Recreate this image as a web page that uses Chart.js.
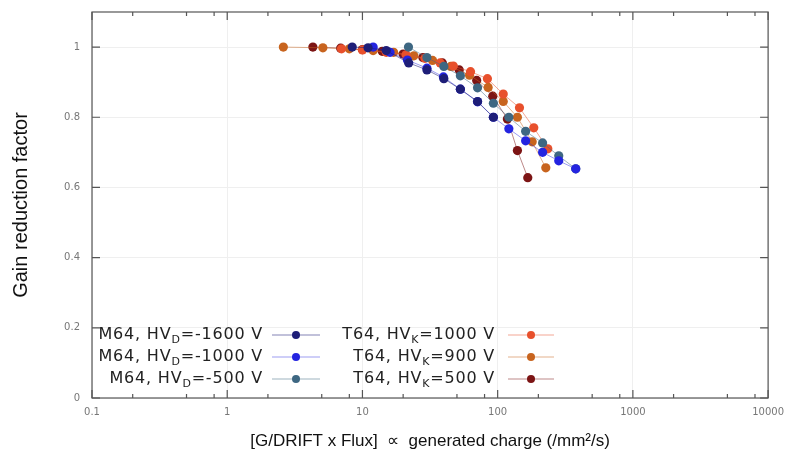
<!DOCTYPE html>
<html>
<head>
<meta charset="utf-8">
<script src="https://cdn.jsdelivr.net/npm/chart.js@4.4.0/dist/chart.umd.min.js"></script>
<style>
  html, body { margin: 0; padding: 0; background: #fff; }
  #chart { display: block; }
</style>
</head>
<body>
<canvas id="chart" width="792" height="461"></canvas>
<script>
// series values (x = generated charge, y = gain reduction factor)
const m1600X = [8.4, 11, 15, 22, 30, 40, 53, 71, 93];
const m1600Y = [1.0, 0.998, 0.99, 0.955, 0.935, 0.91, 0.88, 0.845, 0.80];
const m1000X = [12, 16, 21.5, 30, 39.7, 53, 71, 93, 121, 161, 215, 283, 378];
const m1000Y = [1.0, 0.985, 0.963, 0.94, 0.915, 0.88, 0.844, 0.80, 0.767, 0.733, 0.70, 0.676, 0.653];
const m500X = [21.9, 30, 40, 53, 71, 93, 121, 161, 215, 283, 378];
const m500Y = [1.0, 0.97, 0.945, 0.918, 0.884, 0.84, 0.80, 0.76, 0.727, 0.69, 0.653];
const t1000X = [7, 10, 15, 21, 29, 37.6, 47, 63, 84, 110, 145, 185, 235];
const t1000Y = [0.995, 0.992, 0.985, 0.978, 0.968, 0.955, 0.946, 0.93, 0.91, 0.866, 0.827, 0.77, 0.71];
const t900X = [2.6, 5.1, 8, 12, 17, 24, 33, 45, 62, 85, 110, 140, 180, 227];
const t900Y = [1.0, 0.998, 0.995, 0.99, 0.985, 0.975, 0.962, 0.945, 0.92, 0.885, 0.845, 0.80, 0.73, 0.656];
const t500X = [4.3, 6.9, 10, 14, 20, 28, 39, 52, 70, 92, 118, 140, 167];
const t500Y = [1.0, 0.997, 0.993, 0.988, 0.98, 0.97, 0.955, 0.935, 0.905, 0.86, 0.795, 0.705, 0.628];

const seriesLabels = ['M64, HV_D=-1600 V', 'M64, HV_D=-1000 V', 'M64, HV_D=-500 V',
                      'T64, HV_K=1000 V', 'T64, HV_K=900 V', 'T64, HV_K=500 V'];
const xMajorTicks = [0.1, 1, 10, 100, 1000, 10000];
const xMinorSteps = [2, 5, 8];
const yTicks = [0, 0.2, 0.4, 0.6, 0.8, 1];

const colors = ['#1e1e78', '#2424e0', '#3e6782', '#e8502c', '#c8641e', '#7c1414'];
const lineColors = ['rgba(30,30,120,0.55)', 'rgba(36,36,224,0.45)', 'rgba(62,103,130,0.5)',
                    'rgba(232,80,44,0.5)', 'rgba(200,100,30,0.5)', 'rgba(124,20,20,0.5)'];

function pts(xs, ys) {
    return xs.map((x, i) => ({ x: x, y: ys[i] }));
}
const allData = [pts(m1600X, m1600Y), pts(m1000X, m1000Y), pts(m500X, m500Y),
                 pts(t1000X, t1000Y), pts(t900X, t900Y), pts(t500X, t500Y)];

// frame, inward ticks (top/right mirrored) and gnuplot-like legend
const framePlugin = {
    id: 'frame',
    afterDatasetsDraw(chart) {
        const { ctx, chartArea: a, scales } = chart;
        ctx.save();
        ctx.strokeStyle = '#555';
        ctx.lineWidth = 1.2;
        ctx.beginPath();
        const xs = scales.x, ys = scales.y;
        const tick = (px, len) => {
            ctx.moveTo(px, a.bottom); ctx.lineTo(px, a.bottom - len);
            ctx.moveTo(px, a.top); ctx.lineTo(px, a.top + len);
        };
        xMajorTicks.forEach(v => {
            tick(xs.getPixelForValue(v), 8);
            if (v < 10000) xMinorSteps.forEach(m => tick(xs.getPixelForValue(v * m), 4));
        });
        yTicks.forEach(v => {
            const py = ys.getPixelForValue(v);
            ctx.moveTo(a.left, py); ctx.lineTo(a.left + 8, py);
            ctx.moveTo(a.right, py); ctx.lineTo(a.right - 8, py);
        });
        ctx.stroke();
        ctx.strokeRect(a.left, a.top, a.right - a.left, a.bottom - a.top);

        // legend
        const rowsY = [335, 357, 379];
        const cols = [{ textRight: 263, lineL: 272, lineR: 320 }, { textRight: 495, lineL: 508, lineR: 554 }];
        ctx.textBaseline = 'middle';
        ctx.letterSpacing = '0.8px';
        chart.data.datasets.forEach((ds, i) => {
            const col = cols[Math.floor(i / 3)];
            const y = rowsY[i % 3];
            const m = ds.label.match(/^(.*)_(\w)(.*)$/);
            const big = '16px "DejaVu Sans"', small = '11px "DejaVu Sans"';
            ctx.font = big;
            const w1 = ctx.measureText(m[1]).width, w3 = ctx.measureText(m[3]).width;
            ctx.font = small;
            const w2 = ctx.measureText(m[2]).width;
            let x = col.textRight - (w1 + w2 + w3);
            ctx.fillStyle = '#222';
            ctx.textAlign = 'left';
            ctx.font = big; ctx.fillText(m[1], x, y); x += w1;
            ctx.font = small; ctx.fillText(m[2], x, y + 5); x += w2;
            ctx.font = big; ctx.fillText(m[3], x, y);
            ctx.strokeStyle = ds.borderColor;
            ctx.lineWidth = 1;
            ctx.beginPath();
            ctx.moveTo(col.lineL, y); ctx.lineTo(col.lineR, y);
            ctx.stroke();
            ctx.fillStyle = ds.pointBackgroundColor;
            ctx.beginPath();
            ctx.arc((col.lineL + col.lineR) / 2, y, 4, 0, Math.PI * 2);
            ctx.fill();
        });
        ctx.restore();
    }
};

const ctx = document.getElementById('chart').getContext('2d');
const chart = new Chart(ctx, {
    type: 'scatter',
    data: {
        datasets: allData.map((d, i) => ({
            label: seriesLabels[i],
            data: d,
            showLine: true,
            borderColor: lineColors[i],
            borderWidth: 1,
            pointBackgroundColor: colors[i],
            pointBorderColor: colors[i],
            pointBorderWidth: 0,
            pointRadius: 4.6
        }))
    },
    options: {
        responsive: false,
        animation: false,
        layout: { padding: { top: 12, right: 20, left: 0, bottom: 0 } },
        plugins: {
            legend: { display: false },
            tooltip: { enabled: false }
        },
        scales: {
            x: {
                type: 'logarithmic',
                min: 0.1,
                max: 10000,
                afterFit: s => { s.height = 63; },
                afterBuildTicks: s => { s.ticks = xMajorTicks.map(v => ({ value: v })); },
                grid: { color: '#efefef', drawTicks: false },
                border: { display: false },
                ticks: {
                    padding: 8,
                    color: '#777',
                    font: { family: 'DejaVu Sans', size: 10 },
                    callback: v => String(v)
                },
                title: {
                    display: true,
                    text: '[G/DRIFT x Flux]  \u221d  generated charge (/mm\u00b2/s)',
                    color: '#111',
                    font: { family: 'Liberation Sans', size: 17 },
                    padding: { top: 0, bottom: 9 }
                }
            },
            y: {
                min: 0,
                max: 1.1,
                afterFit: s => { s.width = 92; s.paddingTop = 0; s.paddingBottom = 0; },
                afterBuildTicks: s => { s.ticks = yTicks.map(v => ({ value: v })); },
                grid: { color: '#efefef', drawTicks: false },
                border: { display: false },
                ticks: {
                    padding: 12,
                    color: '#777',
                    font: { family: 'DejaVu Sans', size: 10 },
                    callback: v => String(v)
                },
                title: {
                    display: true,
                    text: 'Gain reduction factor',
                    color: '#111',
                    font: { family: 'Liberation Sans', size: 20 },
                    padding: { top: 9, bottom: 0 }
                }
            }
        }
    },
    plugins: [framePlugin]
});
</script>
</body>
</html>
